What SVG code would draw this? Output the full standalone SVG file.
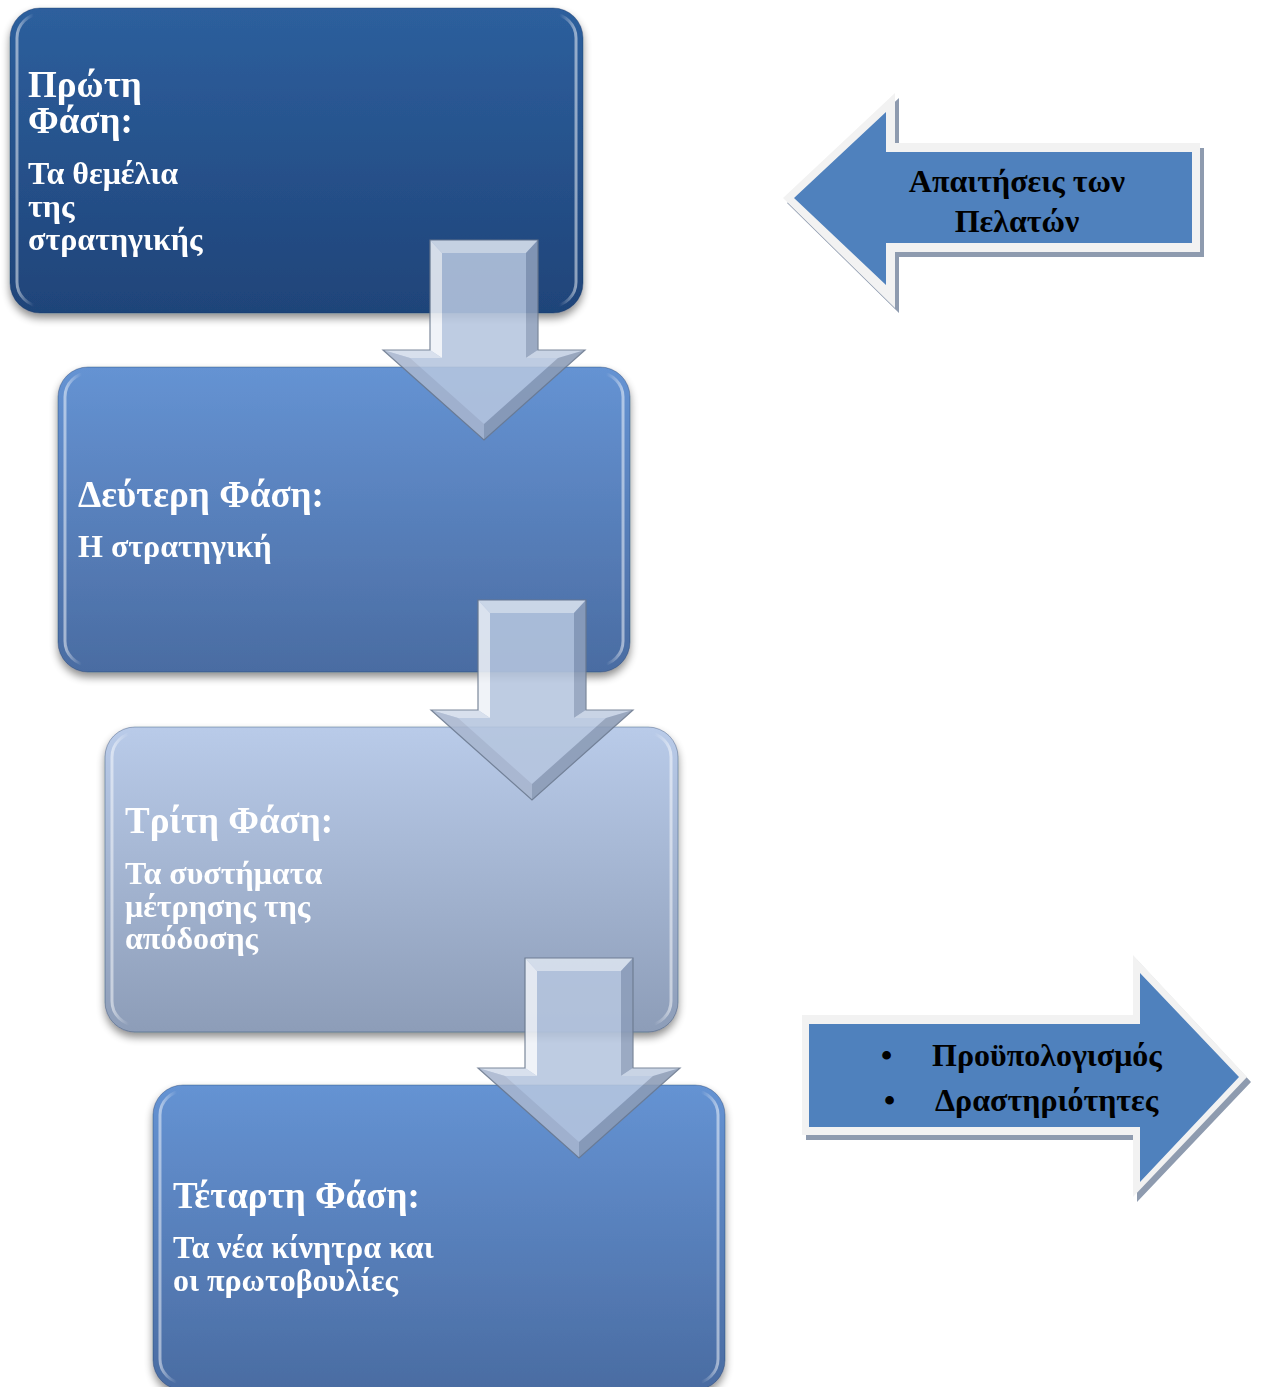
<svg xmlns="http://www.w3.org/2000/svg" width="1262" height="1387" viewBox="0 0 1262 1387">
  <defs>
    <linearGradient id="fillDark" x1="0" y1="0" x2="0" y2="1">
      <stop offset="0" stop-color="#2D5F9D"/>
      <stop offset="1" stop-color="#1F4479"/>
    </linearGradient>
    <linearGradient id="fillMid" x1="0" y1="0" x2="0" y2="1">
      <stop offset="0" stop-color="#6593D3"/>
      <stop offset="1" stop-color="#4A6CA2"/>
    </linearGradient>
    <linearGradient id="fillLight" x1="0" y1="0" x2="0" y2="1">
      <stop offset="0" stop-color="#B9CBE9"/>
      <stop offset="1" stop-color="#8D9DB8"/>
    </linearGradient>
    <linearGradient id="bevel" x1="0" y1="0" x2="1" y2="0">
      <stop offset="0" stop-color="#FFFFFF" stop-opacity="0.5"/>
      <stop offset="0.03" stop-color="#FFFFFF" stop-opacity="0"/>
      <stop offset="0.97" stop-color="#FFFFFF" stop-opacity="0"/>
      <stop offset="1" stop-color="#FFFFFF" stop-opacity="0.5"/>
    </linearGradient>
    <filter id="boxShadow" x="-10%" y="-10%" width="120%" height="125%">
      <feGaussianBlur in="SourceAlpha" stdDeviation="4"/>
      <feOffset dx="0" dy="5" result="b"/>
      <feComponentTransfer><feFuncA type="linear" slope="0.45"/></feComponentTransfer>
      <feMerge><feMergeNode/><feMergeNode in="SourceGraphic"/></feMerge>
    </filter>
    <!-- bevelled down arrow, origin at top-left of the shaft -->
    <g id="downArrow">
      <polygon class="face" points="0,0 108,0 108,110 155,110 54,200 -47,110 0,110"/>
      <polygon fill="#DCE4F0" points="0,0 108,0 96,13 12,13"/>
      <polygon fill="#EEF2F8" points="0,0 12,13 12,118 0,110"/>
      <polygon fill="#8E9FBB" points="108,0 108,110 96,118 96,13"/>
      <polygon fill="#D3DCEB" points="0,110 12,118 -20,118 -47,110"/>
      <polygon fill="#C2CEE2" points="108,110 155,110 128,118 96,118"/>
      <polygon fill="#A8B6CE" points="-47,110 -20,118 54,184 54,200"/>
      <polygon fill="#8B9BB6" points="155,110 54,200 54,184 128,118"/>
      <polygon fill="none" stroke="#6A788E" stroke-width="1.2" points="0,0 108,0 108,110 155,110 54,200 -47,110 0,110"/>
    </g>
  </defs>
  <style>
    .box { stroke: #1B355C; stroke-opacity: 0.35; stroke-width: 1; }
    .gloss { fill: none; stroke: url(#bevel); stroke-width: 3; }
    .face { fill: #B6C5DF; }
    .title { font-family: "Liberation Serif", "Times New Roman", serif; font-weight: bold; font-size: 37px; fill: #FFFFFF; }
    .sub { font-family: "Liberation Serif", "Times New Roman", serif; font-weight: bold; font-size: 32px; fill: #FFFFFF; }
    .lbl { font-family: "Liberation Serif", "Times New Roman", serif; font-weight: bold; font-size: 32px; fill: #000000; }
    .pad { fill: #F2F2F2; }
    .drop { fill: #8E9BAF; }
    .blue { fill: #4F81BD; }
  </style>

  <!-- phase boxes -->
  <g id="phase1" filter="url(#boxShadow)">
    <rect class="box" x="10" y="8" width="573" height="305" rx="30" fill="url(#fillDark)"/>
    <rect class="gloss" x="17" y="14" width="559" height="292" rx="24"/>
    <text class="title" x="28" y="97">Πρώτη</text>
    <text class="title" x="28" y="133">Φάση:</text>
    <text class="sub" x="28" y="184">Τα θεμέλια</text>
    <text class="sub" x="28" y="217">της</text>
    <text class="sub" x="28" y="250">στρατηγικής</text>
  </g>

  <g id="phase2" filter="url(#boxShadow)">
    <rect class="box" x="58" y="367" width="572" height="305" rx="30" fill="url(#fillMid)"/>
    <rect class="gloss" x="65" y="373" width="558" height="292" rx="24"/>
    <text class="title" x="78" y="507">Δεύτερη Φάση:</text>
    <text class="sub" x="78" y="557">Η στρατηγική</text>
  </g>

  <g id="phase3" filter="url(#boxShadow)">
    <rect class="box" x="105" y="727" width="573" height="305" rx="30" fill="url(#fillLight)"/>
    <rect class="gloss" x="112" y="733" width="559" height="292" rx="24"/>
    <text class="title" x="125" y="833">Τρίτη Φάση:</text>
    <text class="sub" x="125" y="884">Τα συστήματα</text>
    <text class="sub" x="125" y="917">μέτρησης της</text>
    <text class="sub" x="125" y="949">απόδοσης</text>
  </g>

  <g id="phase4" filter="url(#boxShadow)">
    <rect class="box" x="153" y="1085" width="572" height="305" rx="30" fill="url(#fillMid)"/>
    <rect class="gloss" x="160" y="1091" width="558" height="292" rx="24"/>
    <text class="title" x="173" y="1208">Τέταρτη Φάση:</text>
    <text class="sub" x="173" y="1258">Τα νέα κίνητρα και</text>
    <text class="sub" x="173" y="1291">οι πρωτοβουλίες</text>
  </g>

  <!-- connectors between phases -->
  <g id="connectors" opacity="0.88">
    <use href="#downArrow" transform="translate(430,240)"/>
    <use href="#downArrow" transform="translate(478,600)"/>
    <use href="#downArrow" transform="translate(525,958)"/>
  </g>

  <!-- incoming requirements arrow -->
  <g id="requirements">
    <polygon class="drop" points="787,203 899,98 899,148 1204,148 1204,257 899,257 899,313"/>
    <polygon class="pad" points="783,198 895,93 895,143 1200,143 1200,252 895,252 895,308"/>
    <polygon class="blue" points="794,198 886,112 886,152 1192,152 1192,243 886,243 886,285"/>
    <text class="lbl" x="1017" y="192" text-anchor="middle">Απαιτήσεις των</text>
    <text class="lbl" x="1017" y="232" text-anchor="middle">Πελατών</text>
  </g>

  <!-- outgoing results arrow -->
  <g id="results">
    <polygon class="drop" points="806,1020 1137,1020 1137,960 1251,1082 1137,1202 1137,1140 806,1140"/>
    <polygon class="pad" points="802,1015 1133,1015 1133,955 1247,1077 1133,1197 1133,1135 802,1135"/>
    <polygon class="blue" points="809,1024 1140,1024 1140,973 1239,1077 1140,1182 1140,1127 809,1127"/>
    <text class="lbl" x="881" y="1066">•</text>
    <text class="lbl" x="932" y="1066">Προϋπολογισμός</text>
    <text class="lbl" x="884" y="1111">•</text>
    <text class="lbl" x="935" y="1111">Δραστηριότητες</text>
  </g>
</svg>
